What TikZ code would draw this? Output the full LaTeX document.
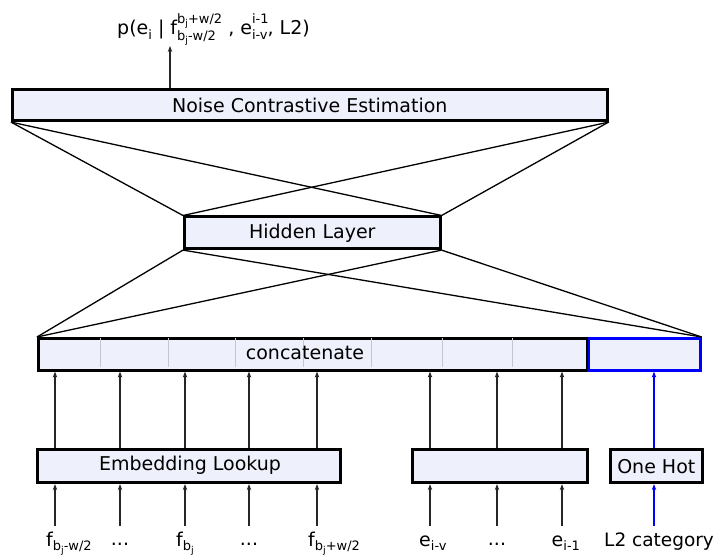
\documentclass[tikz,border=0pt]{standalone}
\usepackage{fontspec}
\setmainfont{DejaVu Sans}
\usetikzlibrary{arrows.meta}
\definecolor{boxfill}{HTML}{EEF0FC}
\definecolor{divgray}{HTML}{C4C6D0}
\newcommand\mainsize{\fontsize{19}{22.8}\selectfont}
\newcommand\labsize{\fontsize{18.5}{22}\selectfont}
\newcommand\subsz{\fontsize{13}{15}\selectfont}
\newcommand\subsubsz{\fontsize{9.5}{11}\selectfont}
\newcommand\bj{b\raisebox{-0.22em}{\subsubsz j}}
\newcommand\lsub[1]{\raisebox{-0.22em}{\subsz #1}}
\begin{document}
\begin{tikzpicture}[x=1pt,y=-1pt,
  box/.style={draw=black,line width=2.6pt,fill=boxfill,inner sep=0pt,anchor=north west,font=\mainsize},
  link/.style={line width=1.3pt,black},
  arr/.style={line width=1.1pt,black!85,-{Stealth[length=6pt,width=4.5pt]}},
  barr/.style={line width=1.1pt,blue,-{Stealth[length=6pt,width=4.5pt]}},
  lab/.style={font=\mainsize,inner sep=0pt,anchor=base west}]
\useasboundingbox (0,0) rectangle (716,556);
% boxes
\node[box,minimum width=595pt,minimum height=31pt] (nce) at (11,88.5) {Noise Contrastive Estimation};
\node[box,minimum width=256pt,minimum height=32pt] (hid) at (183,215.5) {Hidden Layer};
\node[box,minimum width=550pt,minimum height=32pt] (cat) at (37,337) {};
\node[box,draw=blue,minimum width=112pt,minimum height=32pt] (blu) at (587,337) {};
\node[box,minimum width=303pt,minimum height=33pt] (emb) at (36,448.5) {};
\node[box,minimum width=175pt,minimum height=33pt] (mid) at (411,448.5) {};
\node[box,minimum width=92pt,minimum height=33pt] (one) at (609,448.5) {One Hot};
\node[font=\mainsize,inner sep=0pt] (embt) at (190,465) {Embedding Lookup};
% dividers
\foreach \x in {100,168,235,303,371,442,512}
  \draw[divgray,line width=1pt] (\x,338.5) -- (\x,367.5);
\draw[line width=2.6pt] (587,337) -- (587,369);
\node[font=\mainsize,inner sep=0pt] (cattxt) at (305,353) {concatenate};
% fan lines
\draw[link] (nce.south west) -- (hid.north west);
\draw[link] (nce.south west) -- (hid.north east);
\draw[link] (nce.south east) -- (hid.north west);
\draw[link] (nce.south east) -- (hid.north east);
\draw[link] (hid.south west) -- (cat.north west);
\draw[link] (hid.south west) -- (blu.north east);
\draw[link] (hid.south east) -- (cat.north west);
\draw[link] (hid.south east) -- (blu.north east);
% top output
\node[lab] (out) at (117,35) {p(e\lsub{i} | f\rlap{\raisebox{-0.3em}{\subsz \bj-w/2}}\raisebox{0.6em}{\subsz \bj+w/2} , e\rlap{\raisebox{0.6em}{\subsz i-1}}\lsub{i-v}, L2)};
\coordinate (outarr) at (170,46);
\draw[arr] (nce.north -| outarr) -- (outarr);
% arrow x positions
\foreach \n/\x in {a1/55,a2/120,a3/185,a4/249,a5/317}{
  \coordinate (\n) at (\x,526);
  \draw[arr] (\n) -- (\n |- emb.south);
  \draw[arr] (\n |- emb.north) -- (\n |- cat.south);
}
\foreach \n/\x in {b1/430,b2/497,b3/562}{
  \coordinate (\n) at (\x,526);
  \draw[arr] (\n) -- (\n |- mid.south);
  \draw[arr] (\n |- mid.north) -- (\n |- cat.south);
}
\coordinate (c1) at (654,526);
\draw[barr] (c1) -- (c1 |- one.south);
\draw[barr] (c1 |- one.north) -- (c1 |- blu.south);
% input labels
\node[lab] (l1) at (46,546) {f\lsub{\bj-w/2}};
\node[font=\mainsize,inner sep=0pt,anchor=base] (l2) at (120,545) {...};
\node[lab] (l3) at (176,546) {f\lsub{\bj}};
\node[font=\mainsize,inner sep=0pt,anchor=base] (l4) at (249,545) {...};
\node[lab] (l5) at (308,546) {f\lsub{\bj+w/2}};
\node[lab] (l6) at (419,546) {e\lsub{i-v}};
\node[font=\mainsize,inner sep=0pt,anchor=base] (l7) at (497,545) {...};
\node[lab] (l8) at (551.5,546) {e\lsub{i-1}};
\node[lab,font=\labsize] (l9) at (604,546) {L2 category};
\end{tikzpicture}
\end{document}
